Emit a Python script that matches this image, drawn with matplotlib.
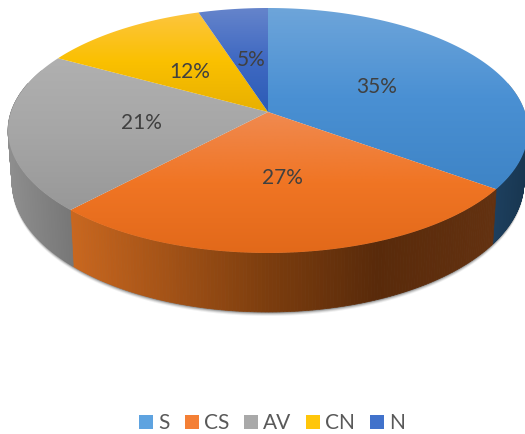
import numpy as np
import matplotlib
matplotlib.use("Agg")
import matplotlib.pyplot as plt
from matplotlib.patches import Polygon, Patch
from matplotlib.colors import LinearSegmentedColormap as LSC

labels = ["S", "CS", "AV", "CN", "N"]
values = [35, 27, 21, 12, 5]
top_colors = [("#6ea5da", "#4a90d3", "#3e84c6"),
              ("#f08a50", "#f07524", "#e2691a"),
              ("#b0b0b0", "#a6a6a6", "#989898"),
              ("#fdc53f", "#fac000", "#e8b000"),
              ("#6584cb", "#3f69c2", "#2c5cb6")]
legend_colors = ["#5ea3e0", "#f47f35", "#a9a9a9", "#ffc60a", "#4172cb"]
side_stops = [[(0, "#1d3f5e"), (1, "#183650")],
              [(0, "#c9671f"), (0.45, "#7e3e0e"), (0.72, "#592a0a"), (1, "#633110")],
              [(0, "#8e8e8e"), (1, "#777777")],
              [(0, "#7f6000"), (1, "#7f6000")],
              [(0, "#2a4478"), (1, "#2a4478")]]

W, H = 525, 434
CX, CY, A, C, K = 268, 112, 257, 119.7, 0.151


def project(theta, r=1.0):
    X, Y = r * np.sin(theta), r * np.cos(theta)
    den = 1 + K * Y
    return CX + A * X / den, CY - C * Y / den


def project_bottom(theta):
    x, y = project(theta)
    return CX + 0.985 * (x - CX), y + 49 - 10 * np.cos(theta)


fig = plt.figure(figsize=(W / 100, H / 100), dpi=100)
ax = fig.add_axes([0, 0, 1, 1])
ax.set_xlim(0, W)
ax.set_ylim(H, 0)
ax.axis("off")

fractions = np.cumsum([0] + values) / sum(values) * 2 * np.pi

# soft shadow under the rim
th = np.linspace(np.pi * 0.42, np.pi * 1.62, 300)
sx, sy = project_bottom(th)
tx, ty = project(th)
for off, alpha in zip([4, 3, 2, 1], [0.08, 0.14, 0.22, 0.32]):
    ax.fill(np.r_[sx, tx[::-1]], np.r_[sy + off, ty[::-1]],
            color="#404040", alpha=alpha, lw=0, zorder=1)

# side walls
for i in range(len(values)):
    t0, t1 = fractions[i], fractions[i + 1]
    a0, a1 = max(t0, np.pi / 2), min(t1, 3 * np.pi / 2 + 0.25)
    if a1 <= a0:
        continue
    cmap = LSC.from_list("s", side_stops[i])
    ts = np.linspace(a0, a1, 140)
    xs, ys = project(ts)
    bx, by = project_bottom(ts)
    lo, hi = xs.min(), xs.max()
    for j in range(len(ts) - 1):
        u = (0.5 * (xs[j] + xs[j + 1]) - lo) / (hi - lo)
        q = [(xs[j], ys[j]), (xs[j + 1], ys[j + 1]),
             (bx[j + 1], by[j + 1]), (bx[j], by[j])]
        ax.add_patch(Polygon(q, fc=cmap(u), ec=cmap(u), lw=0.5, zorder=2))

# top faces with vertical gradient
for i, (t0, t1) in enumerate(zip(fractions[:-1], fractions[1:])):
    ts = np.linspace(t0, t1, 200)
    xs, ys = project(ts)
    poly = Polygon(np.c_[np.r_[CX, xs], np.r_[CY, ys]], closed=True,
                   fc="none", ec="none", transform=ax.transData)
    ax.add_patch(poly)
    ymin, ymax = min(ys.min(), CY), max(ys.max(), CY)
    cmap = LSC.from_list("t", top_colors[i])
    g = np.linspace(0, 1, 256).reshape(-1, 1)
    im = ax.imshow(g, cmap=cmap, extent=(min(xs.min(), CX) - 2, max(xs.max(), CX) + 2,
                                         ymax, ymin),
                   aspect="auto", zorder=3, interpolation="bilinear")
    im.set_clip_path(poly)
ax.set_xlim(0, W)
ax.set_ylim(H, 0)

# percentage labels
label_xy = [(377, 87), (282, 178), (141, 123), (190, 72), (251, 60)]
for v, (x, y) in zip(values, label_xy):
    ax.text(x, y, f"{v}%", ha="center", va="center", fontsize=15,
            color="#404040", family="Lato", zorder=5)

handles = [Patch(fc=c, ec="none") for c in legend_colors]
ax.legend(handles, labels, loc="center", bbox_to_anchor=(272 / W, 1 - 423 / H),
          ncol=5, frameon=False, handlelength=0.67, handleheight=0.67,
          handletextpad=0.24, columnspacing=0.72,
          prop={"family": "Lato", "size": 15}, labelcolor="#595959")
fig.savefig("out.png", dpi=100)
